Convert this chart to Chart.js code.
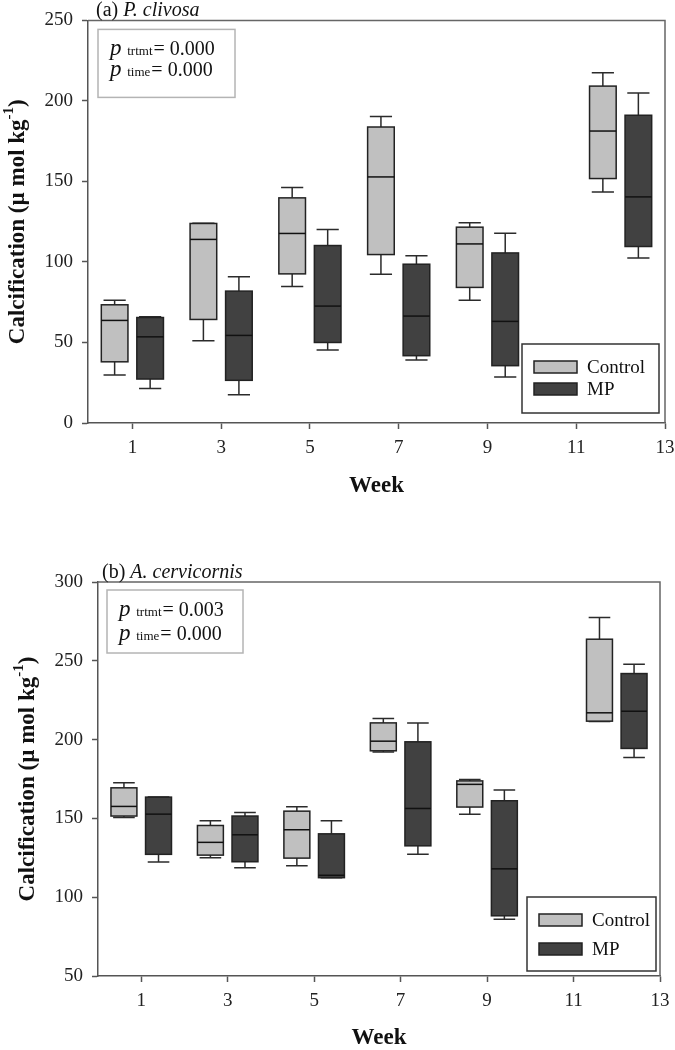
<!DOCTYPE html>
<html>
<head>
<meta charset="utf-8">
<script src="https://cdn.jsdelivr.net/npm/chart.js@4.4.0/dist/chart.umd.min.js"></script>
<style>
  body { margin: 0; background: #fff; }
  .panel { position: relative; width: 675px; height: 525px; }
</style>
</head>
<body>
<div class="panel"><canvas id="chartA"></canvas></div>
<div class="panel"><canvas id="chartB"></canvas></div>
<script>
const weeks = [1, 3, 5, 7, 9, 12];
const weekTicks = [1, 3, 5, 7, 9, 11, 13];
const yTicksA = [0, 50, 100, 150, 200, 250];
const yTicksB = [50, 100, 150, 200, 250, 300];

// each entry: [min, q1, median, q3, max]
const ctrlA = [[29.8, 38, 63.7, 73.4, 76.3], [51, 64.3, 114, 123.9, 124], [84.8, 92.6, 117.7, 139.8, 146.2],
               [92.4, 104.6, 152.8, 183.8, 190.4], [76.3, 84.2, 111.2, 121.6, 124.3], [143.5, 151.8, 181.3, 209.2, 217.5]];
const mpA = [[21.5, 27.3, 53.5, 65.5, 66], [17.6, 26.5, 54.4, 81.9, 90.8], [45.3, 50, 72.6, 110.2, 120.1],
             [39.1, 41.8, 66.4, 98.6, 103.8], [28.5, 35.6, 63.1, 105.6, 117.9], [102.4, 109.6, 140.4, 191.1, 204.9]];
const ctrlB = [[150.6, 151.5, 157.6, 169.4, 172.6], [125, 126.7, 134.8, 145.5, 148.5], [120, 124.8, 142.8, 154.6, 157.4],
               [192.2, 192.9, 199, 210.6, 213.4], [152.7, 157.2, 171.6, 173.8, 174.7], [211.5, 211.7, 217, 263.7, 277.4]];
const mpB = [[122.3, 127.2, 152.7, 163.5, 163.5], [118.7, 122.5, 139.6, 151.5, 153.8], [112.4, 112.4, 113.9, 140.2, 148.5],
             [127.2, 132.6, 156.3, 198.6, 210.6], [86, 88.2, 118, 161.2, 168], [188.7, 194.4, 218, 241.9, 247.8]];

const seriesNames = ['Control', 'MP'];
const seriesColors = ['#c0c0c0', '#414141'];

const SERIF = '"Liberation Serif", "Times New Roman", serif';

// draws the boxes, frame, legend and the annotation texts
const boxPlugin = {
    id: 'boxes',
    afterDatasetsDraw(chart) {
        const ctx = chart.ctx;
        const x = chart.scales.x, y = chart.scales.y;
        const area = chart.chartArea;
        const cfg = chart.options.plugins.boxes;

        // top and right frame
        ctx.save();
        ctx.strokeStyle = '#666';
        ctx.lineWidth = 1.5;
        ctx.beginPath();
        ctx.moveTo(area.left, area.top);
        ctx.lineTo(area.right, area.top);
        ctx.lineTo(area.right, area.bottom);
        ctx.stroke();

        const half = x.getPixelForValue(0.3) - x.getPixelForValue(0);
        const cap = x.getPixelForValue(0.25) - x.getPixelForValue(0);
        chart.data.datasets.forEach(ds => {
            ds.stats.forEach((s, i) => {
                const cx = x.getPixelForValue(weeks[i] + ds.shift);
                const [mn, q1, md, q3, mx] = s.map(v => y.getPixelForValue(v));
                ctx.strokeStyle = '#2b2b2b';
                ctx.lineWidth = 1.5;
                ctx.beginPath();
                ctx.moveTo(cx, q3); ctx.lineTo(cx, mx);
                ctx.moveTo(cx - cap, mx); ctx.lineTo(cx + cap, mx);
                ctx.moveTo(cx, q1); ctx.lineTo(cx, mn);
                ctx.moveTo(cx - cap, mn); ctx.lineTo(cx + cap, mn);
                ctx.stroke();
                ctx.fillStyle = ds.fill;
                ctx.fillRect(cx - half, q3, half * 2, q1 - q3);
                ctx.strokeStyle = '#222';
                ctx.strokeRect(cx - half, q3, half * 2, q1 - q3);
                ctx.strokeStyle = '#111';
                ctx.beginPath();
                ctx.moveTo(cx - half, md); ctx.lineTo(cx + half, md);
                ctx.stroke();
            });
        });

        // panel title
        ctx.fillStyle = '#111';
        ctx.textBaseline = 'alphabetic';
        ctx.textAlign = 'left';
        ctx.font = '20px ' + SERIF;
        const tx = area.left + cfg.titleDx, ty = area.top - 4;
        ctx.fillText(cfg.tag + ' ', tx, ty);
        const tw = ctx.measureText(cfg.tag + ' ').width;
        ctx.font = 'italic 20px ' + SERIF;
        ctx.fillText(cfg.species, tx + tw, ty);

        // p-value box
        const pb = cfg.pBox;
        ctx.strokeStyle = '#b4b4b4';
        ctx.lineWidth = 1.5;
        ctx.strokeRect(area.left + pb.dx, area.top + pb.dy, pb.w, pb.h);
        cfg.pLines.forEach((ln, k) => {
            let px = area.left + pb.dx + 12;
            const py = area.top + pb.dy + pb.lines[k];
            ctx.font = 'italic 23px ' + SERIF;
            ctx.fillText('p ', px, py);
            px += ctx.measureText('p ').width;
            ctx.font = '13px ' + SERIF;
            ctx.fillText(ln[0], px, py);
            px += ctx.measureText(ln[0]).width + 1;
            ctx.font = '20px ' + SERIF;
            ctx.fillText('= ' + ln[1], px, py);
        });

        // legend
        const lg = cfg.legend;
        const lx = area.right - lg.dr - lg.w, ly = area.bottom - lg.db - lg.h;
        ctx.strokeStyle = '#333';
        ctx.strokeRect(lx, ly, lg.w, lg.h);
        seriesNames.forEach((name, k) => {
            const sy = ly + lg.rows[k];
            ctx.fillStyle = seriesColors[k];
            ctx.fillRect(lx + 12, sy - 6, 43, 12);
            ctx.strokeStyle = '#222';
            ctx.strokeRect(lx + 12, sy - 6, 43, 12);
            ctx.fillStyle = '#111';
            ctx.font = '19px ' + SERIF;
            ctx.textBaseline = 'middle';
            ctx.fillText(name, lx + 65, sy + 1);
        });

        // y axis title with superscript
        ctx.translate(area.left - cfg.yTitleDx, (area.top + area.bottom) / 2);
        ctx.rotate(-Math.PI / 2);
        ctx.textBaseline = 'middle';
        const big = 'bold 23px ' + SERIF, small = 'bold 15px ' + SERIF;
        const main = 'Calcification (\u00b5 mol kg', sup = '-1', end = ')';
        ctx.font = big;
        const w1 = ctx.measureText(main).width, w3 = ctx.measureText(end).width;
        ctx.font = small;
        const w2 = ctx.measureText(sup).width;
        let sx = -(w1 + w2 + w3) / 2;
        ctx.font = big;
        ctx.fillText(main, sx, 0);
        ctx.font = small;
        ctx.fillText(sup, sx + w1, -9);
        ctx.font = big;
        ctx.fillText(end, sx + w1 + w2, 0);
        ctx.restore();
    }
};

function makeChart(id, ctrl, mp, yTicks, cfg) {
    const ctx = document.getElementById(id).getContext('2d');
    return new Chart(ctx, {
        type: 'scatter',
        data: {
            datasets: [
                { label: seriesNames[0], data: weeks.map((w, i) => ({ x: w - 0.4, y: ctrl[i][2] })), stats: ctrl, shift: -0.4, fill: seriesColors[0], pointRadius: 0 },
                { label: seriesNames[1], data: weeks.map((w, i) => ({ x: w + 0.4, y: mp[i][2] })), stats: mp, shift: 0.4, fill: seriesColors[1], pointRadius: 0 }
            ]
        },
        options: {
            responsive: true,
            maintainAspectRatio: false,
            animation: false,
            layout: { padding: { left: 0, top: cfg.padTop, right: cfg.padRight, bottom: 0 } },
            plugins: {
                legend: { display: false },
                tooltip: { enabled: false },
                boxes: cfg
            },
            scales: {
                x: {
                    type: 'linear',
                    min: 0,
                    max: 13,
                    afterBuildTicks: scale => { scale.ticks = weekTicks.map(v => ({ value: v })); },
                    afterFit: scale => {
                        scale.height = cfg.xHeight;
                        scale.paddingLeft = 0;
                        scale.paddingRight = 0;
                    },
                    grid: { drawOnChartArea: false, tickLength: 6, tickColor: '#555', tickWidth: 1.5 },
                    border: { color: '#555', width: 1.5 },
                    ticks: { color: '#222', font: { family: SERIF, size: 19 }, padding: 8, maxRotation: 0 },
                    title: { display: true, text: 'Week', color: '#111', font: { family: SERIF, size: 23, weight: 'bold', lineHeight: 1 }, padding: { top: 0, bottom: cfg.weekPad } }
                },
                y: {
                    min: yTicks[0],
                    max: yTicks[yTicks.length - 1],
                    afterBuildTicks: scale => { scale.ticks = yTicks.map(v => ({ value: v })); },
                    afterFit: scale => { scale.width = cfg.yWidth; },
                    grid: { drawOnChartArea: false, tickLength: 6, tickColor: '#555', tickWidth: 1.5 },
                    border: { color: '#555', width: 1.5 },
                    ticks: { color: '#222', font: { family: SERIF, size: 19 }, padding: 9 }
                }
            }
        },
        plugins: [boxPlugin]
    });
}

makeChart('chartA', ctrlA, mpA, yTicksA, {
    padTop: 20, padRight: 10, xHeight: 102, yWidth: 88, weekPad: 27,
    tag: '(a)', species: 'P. clivosa', titleDx: 8, yTitleDx: 70,
    pBox: { dx: 10, dy: 9, w: 137, h: 68, lines: [26, 47] },
    pLines: [['trtmt', '0.000'], ['time', '0.000']],
    legend: { dr: 6, db: 10, w: 137, h: 69, rows: [23, 45] }
});

makeChart('chartB', ctrlB, mpB, yTicksB, {
    padTop: 57, padRight: 15, xHeight: 74, yWidth: 98, weekPad: 0,
    tag: '(b)', species: 'A. cervicornis', titleDx: 4, yTitleDx: 70,
    pBox: { dx: 9, dy: 8, w: 136, h: 63, lines: [26, 50] },
    pLines: [['trtmt', '0.003'], ['time', '0.000']],
    legend: { dr: 4, db: 5, w: 129, h: 74, rows: [23, 52] }
});
</script>
</body>
</html>
